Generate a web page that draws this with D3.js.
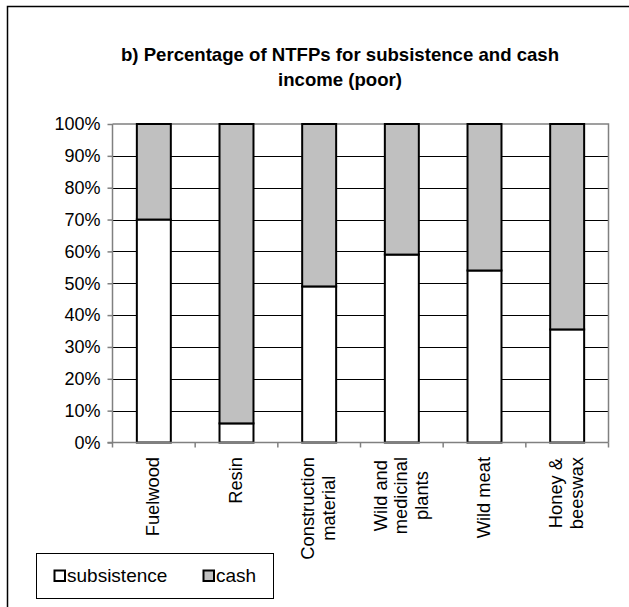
<!DOCTYPE html>
<html>
<head>
<meta charset="utf-8">
<script src="https://cdn.jsdelivr.net/npm/d3@7"></script>
<style>
  html, body { margin: 0; padding: 0; background: #fff; }
  svg { display: block; }
  text { font-family: "Liberation Sans", Arial, sans-serif; fill: #000; }
</style>
</head>
<body>
<svg id="chart" width="629" height="607"></svg>
<script>
// Share of each NTFP used for subsistence vs. sold for cash (poor households)
const categories = ["Fuelwood", "Resin", "Construction material", "Wild and medicinal plants", "Wild meat", "Honey & beeswax"];
const labelLines = [["Fuelwood"], ["Resin"], ["Construction", "material"], ["Wild and", "medicinal", "plants"], ["Wild meat"], ["Honey &", "beeswax"]];
const subsistence = [70, 6, 49, 59, 54, 35.5];
const cash = [30, 94, 51, 41, 46, 64.5];
const seriesNames = ["subsistence", "cash"];
const yTicks = [0, 10, 20, 30, 40, 50, 60, 70, 80, 90, 100];
const titleLines = ["b) Percentage of NTFPs for subsistence and cash", "income (poor)"];

const svg = d3.select("#chart");
const colors = { subsistence: "#ffffff", cash: "#c0c0c0" };

// outer chart frame (runs past right and bottom edges)
svg.append("path")
  .attr("d", "M7.5,640 V6.5 H660")
  .attr("fill", "none").attr("stroke", "#000").attr("stroke-width", 1.5);

// title
svg.append("g").selectAll("text").data(titleLines).join("text")
  .attr("x", 340).attr("y", (d, i) => 61 + i * 25)
  .attr("text-anchor", "middle")
  .style("font-size", "18.6px").style("font-weight", "bold")
  .text(d => d);

const L = 112.5, R = 608.5, T = 124, B = 442.5;

const x = d3.scaleBand().domain(categories).range([L, R]).paddingInner(0).paddingOuter(0);
const y = d3.scaleLinear().domain([0, 100]).range([B, T]);
const barW = x.bandwidth() * 0.411;

// horizontal gridlines
svg.append("g").selectAll("line").data(yTicks.filter(t => t > 0 && t < 100)).join("line")
  .attr("x1", L).attr("x2", R)
  .attr("y1", d => Math.round(y(d)) + 0.5).attr("y2", d => Math.round(y(d)) + 0.5)
  .attr("stroke", "#000").attr("stroke-width", 1);

// plot area border top/right
svg.append("path")
  .attr("d", `M${L},${y(100)} H${R} V${B}`)
  .attr("fill", "none").attr("stroke", "#808080").attr("stroke-width", 1.5);

// stacked bars
const rows = categories.map((c, i) => ({ c, s: subsistence[i], k: cash[i] }));
const barG = svg.append("g");
rows.forEach(r => {
  const bx = x(r.c) + (x.bandwidth() - barW) / 2;
  barG.append("rect")
    .attr("x", bx).attr("width", barW)
    .attr("y", y(r.s)).attr("height", y(0) - y(r.s))
    .attr("fill", colors.subsistence).attr("stroke", "#000").attr("stroke-width", 2);
  barG.append("rect")
    .attr("x", bx).attr("width", barW)
    .attr("y", y(r.s + r.k)).attr("height", y(r.s) - y(r.s + r.k))
    .attr("fill", colors.cash).attr("stroke", "#000").attr("stroke-width", 2);
});

// y axis
const yAxis = d3.axisLeft(y).tickValues(yTicks).tickFormat(d => d + "%").tickSize(5).tickPadding(7);
const gy = svg.append("g").attr("transform", `translate(${L},0)`).call(yAxis);
gy.select(".domain").remove();
gy.selectAll(".tick line").attr("stroke", "#808080").attr("stroke-width", 1.5);
gy.selectAll(".tick text").style("font-size", "18px").style("font-family", "'Liberation Sans', Arial, sans-serif").attr("fill", "#000");
svg.append("line").attr("x1", L).attr("x2", L).attr("y1", T).attr("y2", B)
  .attr("stroke", "#808080").attr("stroke-width", 1.5);

// x axis line and ticks at category boundaries
svg.append("line").attr("x1", L - 5).attr("x2", R).attr("y1", B).attr("y2", B)
  .attr("stroke", "#808080").attr("stroke-width", 1.5);
const bounds = categories.map(c => x(c)).concat([R]);
svg.append("g").selectAll("line").data(bounds).join("line")
  .attr("x1", d => d).attr("x2", d => d).attr("y1", B).attr("y2", B + 5)
  .attr("stroke", "#808080").attr("stroke-width", 1.5);

// rotated category labels, lines centred on each other, block top at fixed offset
const labelTop = 457, lineH = 20.5;
categories.forEach((c, i) => {
  const lines = labelLines[i];
  const cx = x(c) + x.bandwidth() / 2 - 1;
  const g = svg.append("g").attr("transform", `translate(${cx},${labelTop}) rotate(-90)`);
  const texts = g.selectAll("text").data(lines).join("text")
    .style("font-size", "18.3px")
    .attr("text-anchor", "middle")
    .attr("dy", "0.35em")
    .attr("y", (d, j) => (j - (lines.length - 1) / 2) * lineH)
    .text(d => d);
  let maxLen = 0;
  texts.each(function () { maxLen = Math.max(maxLen, this.getComputedTextLength()); });
  texts.attr("x", -maxLen / 2);
});

// legend
const lg = svg.append("g");
lg.append("rect").attr("x", 36.5).attr("y", 553.5).attr("width", 237).attr("height", 45)
  .attr("fill", "#fff").attr("stroke", "#000").attr("stroke-width", 1);
const legendX = [54, 203];
seriesNames.forEach((name, i) => {
  lg.append("rect").attr("x", legendX[i] + 0.5).attr("y", 570.5).attr("width", 10.5).attr("height", 10.5)
    .attr("fill", colors[name]).attr("stroke", "#000").attr("stroke-width", 2);
  lg.append("text").attr("x", legendX[i] + 13).attr("y", 582)
    .style("font-size", "19px").text(name);
});
</script>
</body>
</html>
